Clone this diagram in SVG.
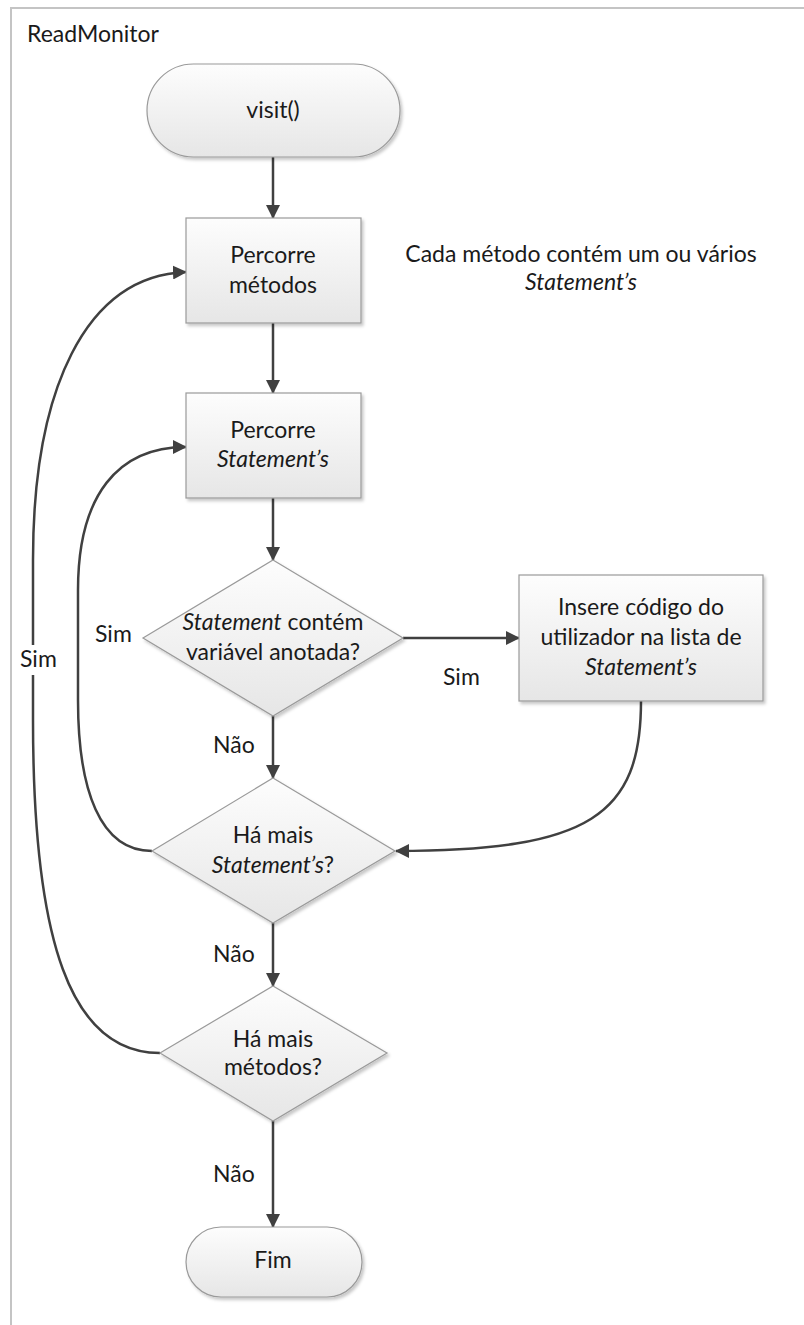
<svg xmlns="http://www.w3.org/2000/svg" width="804" height="1325" viewBox="0 0 804 1325">
  <defs>
    <linearGradient id="shapeFill" x1="0" y1="0" x2="0" y2="1">
      <stop offset="0" stop-color="#fdfdfd"/>
      <stop offset="1" stop-color="#e6e6e6"/>
    </linearGradient>
    <filter id="shadow" x="-10%" y="-10%" width="125%" height="130%">
      <feDropShadow dx="2" dy="2.5" stdDeviation="1.5" flood-color="#000" flood-opacity="0.22"/>
    </filter>
    <marker id="arrow" viewBox="0 0 14 14" refX="13" refY="7" markerWidth="14" markerHeight="14" markerUnits="userSpaceOnUse" orient="auto">
      <path d="M0,0 L14,7 L0,14 Z" fill="#404040"/>
    </marker>
    <style>
      .shape { fill: url(#shapeFill); stroke: #9a9a9a; stroke-width: 1.2; filter: url(#shadow); }
      .txt { font-family: Lato, "Open Sans", "Liberation Sans", sans-serif; font-size: 23px; fill: #1a1a1a; text-anchor: middle; }
      .lbl { font-family: Lato, "Open Sans", "Liberation Sans", sans-serif; font-size: 23px; fill: #1a1a1a; }
      .it { font-style: italic; }
      .conn { fill: none; stroke: #404040; stroke-width: 2.5; }
      .arr { marker-end: url(#arrow); }
    </style>
  </defs>

  <rect width="804" height="1325" fill="#ffffff"/>

  <!-- outer frame -->
  <rect id="frame" x="11" y="8" width="820" height="1340" fill="none" stroke="#c4c4c4" stroke-width="2"/>
  <text class="lbl" x="27" y="42">ReadMonitor</text>

  <!-- connectors -->
  <g id="connectors">
    <path class="conn arr" d="M273,157 L273,218"/>
    <path class="conn arr" d="M273,323 L273,393"/>
    <path class="conn arr" d="M273,498 L273,560"/>
    <path class="conn arr" d="M403,638 L519,638"/>
    <path class="conn arr" d="M273,716 L273,778"/>
    <path class="conn arr" d="M641,701 C641,815 590,851 396,851"/>
    <path class="conn arr" d="M152,851 C100,851 78,790 78,700 L78,590 C78,495 118,447 186,447"/>
    <path class="conn arr" d="M273,923 L273,986"/>
    <path class="conn arr" d="M160,1053 C70,1053 33,940 33,720 L33,560 C33,390 85,276 186,272"/>
    <path class="conn arr" d="M273,1121 L273,1227"/>
  </g>

  <!-- connector labels -->
  <g id="labels">
    <text class="lbl" x="95" y="642">Sim</text>
    <text class="lbl" x="443" y="685">Sim</text>
    <rect x="18" y="645" width="40" height="30" fill="#ffffff"/>
    <text class="lbl" x="20" y="667">Sim</text>
    <text class="lbl" x="213" y="753">Não</text>
    <text class="lbl" x="213" y="962">Não</text>
    <text class="lbl" x="213" y="1182">Não</text>
  </g>

  <g id="start">
    <rect class="shape" x="147" y="64" width="253" height="93" rx="46.5" ry="46.5"/>
    <text class="txt" x="273" y="118">visit()</text>
  </g>

  <g id="percorre-metodos">
    <rect class="shape" x="186" y="218" width="175" height="105"/>
    <text class="txt" x="273" y="263">Percorre</text>
    <text class="txt" x="273" y="293">métodos</text>
  </g>

  <g id="note">
    <text class="txt" x="581" y="262">Cada método contém um ou vários</text>
    <text class="txt it" x="581" y="290">Statement’s</text>
  </g>

  <g id="percorre-statements">
    <rect class="shape" x="186" y="393" width="175" height="105"/>
    <text class="txt" x="273" y="438">Percorre</text>
    <text class="txt it" x="273" y="467">Statement’s</text>
  </g>

  <g id="decisao-anotada">
    <polygon class="shape" points="273,560 403,638 273,716 143,638"/>
    <text class="txt" x="273" y="630"><tspan class="it">Statement</tspan> contém</text>
    <text class="txt" x="273" y="660">variável anotada?</text>
  </g>

  <g id="insere-codigo">
    <rect class="shape" x="519" y="575" width="244" height="126"/>
    <text class="txt" x="641" y="615">Insere código do</text>
    <text class="txt" x="641" y="645">utilizador na lista de</text>
    <text class="txt it" x="641" y="675">Statement’s</text>
  </g>

  <g id="decisao-statements">
    <polygon class="shape" points="273,778 395,851 273,923 152,851"/>
    <text class="txt" x="273" y="843">Há mais</text>
    <text class="txt" x="273" y="873"><tspan class="it">Statement’s</tspan>?</text>
  </g>

  <g id="decisao-metodos">
    <polygon class="shape" points="273,986 387,1053 273,1121 160,1053"/>
    <text class="txt" x="273" y="1047">Há mais</text>
    <text class="txt" x="273" y="1075">métodos?</text>
  </g>

  <g id="fim">
    <rect class="shape" x="186" y="1227" width="176" height="70" rx="35" ry="35"/>
    <text class="txt" x="273" y="1268">Fim</text>
  </g>
</svg>
